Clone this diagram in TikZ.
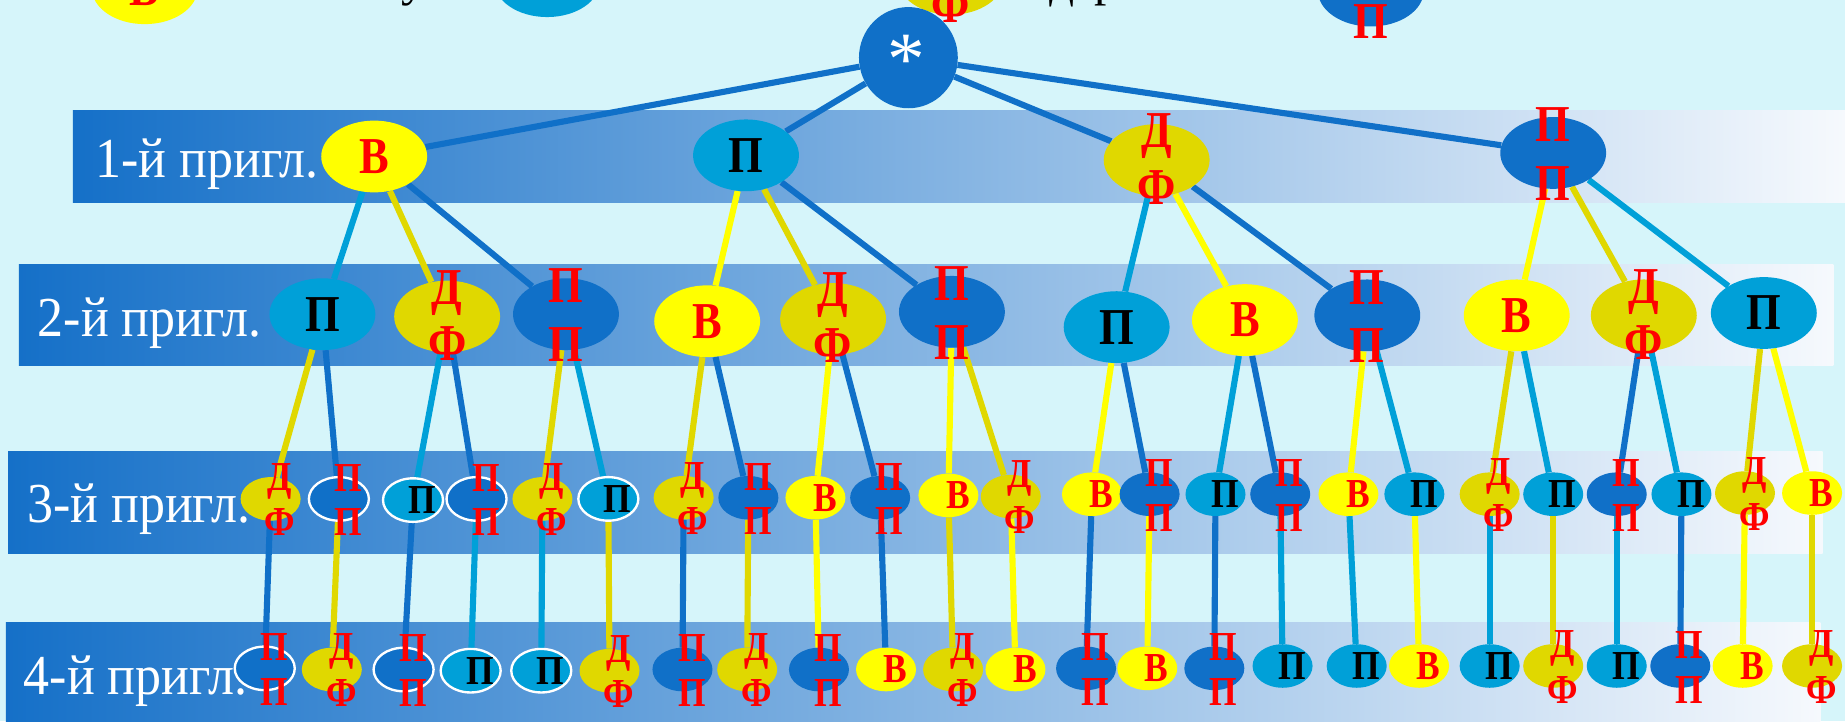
\documentclass[tikz,border=0pt]{standalone}
\usepackage{fontspec}
\setmainfont{Liberation Serif}
\usepackage{graphicx}
\usetikzlibrary{shapes.geometric}
\pgfdeclarelayer{bandlayer}
\pgfdeclarelayer{edgelayer}
\pgfsetlayers{bandlayer,edgelayer,main}
\definecolor{bgc}{RGB}{214,245,250}
\definecolor{yel}{RGB}{255,255,0}
\definecolor{dyel}{RGB}{224,216,0}
\definecolor{cya}{RGB}{0,160,216}
\definecolor{dbl}{RGB}{16,112,200}
\definecolor{bandL}{RGB}{21,112,200}
\definecolor{bandR}{RGB}{246,249,253}
\newcommand{\bigfnt}{\fontsize{44}{44}\selectfont\bfseries}
\newcommand{\smlfnt}{\fontsize{35}{35}\selectfont\bfseries}
\newcommand{\bandfnt}{\fontsize{48}{48}\selectfont}
\newcommand{\nx}[1]{\scalebox{0.86}[1]{#1}}
\newcommand{\dfuA}{20pt}\newcommand{\dfdA}{23pt}
\newcommand{\ppuA}{24pt}\newcommand{\ppdA}{26pt}
\newcommand{\dfuS}{15pt}\newcommand{\dfdS}{20pt}
\newcommand{\ppuS}{18pt}\newcommand{\ppdS}{20pt}
\tikzset{
  ellA/.style={ellipse, minimum width=90pt, minimum height=61pt, inner sep=0pt},
  ellS/.style={ellipse, minimum width=51pt, minimum height=37pt, inner sep=0pt},
  labA/.style={inner sep=0pt, font=\bigfnt},
  labS/.style={inner sep=0pt, font=\smlfnt, xshift=8pt},
  wo/.style={draw=white, line width=2pt},
  ed/.style={line width=5.2pt},
  band/.style={left color=bandL, right color=bandR, draw=none},
  bandtxt/.style={text=white, font=\bandfnt, anchor=base west, inner sep=0pt}
}
\newcommand{\NV}[5]{%
  \node[ell#4,fill=yel,#5] (#1) at (#2,#3) {};
  \node[lab#4,text=red] (#1t) at (#1.center) {\nx{В}};}
\newcommand{\NP}[5]{%
  \node[ell#4,fill=cya,#5] (#1) at (#2,#3) {};
  \node[lab#4,text=black] (#1t) at (#1.center) {\nx{П}};}
\newcommand{\NDF}[5]{%
  \node[ell#4,fill=dyel,#5] (#1) at (#2,#3) {};
  \node[lab#4,text=red,yshift=\csname dfu#4\endcsname] (#1t) at (#1.center) {\nx{Д}};
  \node[lab#4,text=red,yshift=-\csname dfd#4\endcsname] (#1b) at (#1.center) {\nx{Ф}};}
\newcommand{\NPP}[5]{%
  \node[ell#4,fill=dbl,#5] (#1) at (#2,#3) {};
  \node[lab#4,text=red,yshift=\csname ppu#4\endcsname] (#1t) at (#1.center) {\nx{П}};
  \node[lab#4,text=red,yshift=-\csname ppd#4\endcsname] (#1b) at (#1.center) {\nx{П}};}
\begin{document}
\begin{tikzpicture}[x=1pt,y=-1pt]
\useasboundingbox (0,0) rectangle (1568,613);
\clip (0,0) rectangle (1568,613);
\begin{pgfonlayer}{bandlayer}
  \fill[bgc] (0,0) rectangle (1568,613);
  \shade[band] (62,94) rectangle (1568,172);
  \shade[band] (16,225) rectangle (1558,311);
  \shade[band] (7,384) rectangle (1549,470);
  \shade[band] (5,529) rectangle (1547,613);
\end{pgfonlayer}
% band texts
\node[bandtxt] (t1) at (81,151) {\scalebox{0.92}[1]{1-й пригл.}};
\node[bandtxt] (t2) at (32,286) {\scalebox{0.92}[1]{2-й пригл.}};
\node[bandtxt] (t3) at (23,444) {\scalebox{0.92}[1]{3-й пригл.}};
\node[bandtxt] (t4) at (20,590) {\scalebox{0.92}[1]{4-й пригл.}};
% legend (cut off at the top)
\node[ellA,fill=yel] (lgV) at (123,-10) {};
\node[labA,text=red] (lgVt) at (lgV.center) {\nx{В}};
\node[text=black,font=\fontsize{42}{42}\selectfont,anchor=base,inner sep=0pt] (lgu) at (352,-4) {у};
\node[ellA,fill=cya] (lgP) at (465,-16) {};
\node[ellA,fill=dyel] (lgDF) at (808,-18) {};
\node[text=black,font=\fontsize{42}{42}\selectfont,anchor=base,inner sep=0pt] (lgd) at (903,-2) {д};
\node[text=black,font=\fontsize{42}{42}\selectfont,anchor=base,inner sep=0pt] (lgr) at (941,-4) {р};
\node[ellA,fill=dbl] (lgPP) at (1165,-8) {};
\node[labA,text=red,yshift=-26pt] (lgPPb) at (lgPP.center) {\nx{П}};
% root
\node[ellipse,fill=dbl,minimum width=84pt,minimum height=86pt,inner sep=0pt] (r) at (772,49) {};
\node[text=white,font=\fontsize{64}{64}\selectfont,inner sep=0pt] (rt) at (770,51) {*};
\node[labA,text=red,yshift=-23pt] (lgDFb) at (lgDF.center) {\nx{Ф}};
% level 1
\NV{a1}{318}{133}{A}{}
\NP{a2}{634}{132}{A}{}
\NDF{a3}{983}{136}{A}{}
\NPP{a4}{1320}{130}{A}{}
% level 2
\NP{b1}{274}{267}{A}{}
\NDF{b2}{380}{269}{A}{}
\NPP{b3}{481}{267}{A}{}
\NV{b4}{601}{273}{A}{}
\NDF{b5}{708}{271}{A}{}
\NPP{b6}{809}{265}{A}{}
\NP{b7}{949}{278}{A}{}
\NV{b8}{1058}{272}{A}{}
\NPP{b9}{1162}{268}{A}{}
\NV{b10}{1289}{268}{A}{}
\NDF{b11}{1397}{268}{A}{}
\NP{b12}{1499}{266}{A}{}
% level 3
\NDF{c1}{230}{424}{S}{}
\NPP{c2}{288}{424}{S}{wo}
\NP{c3}{351}{425}{S}{wo}
\NPP{c4}{405}{424}{S}{wo}
\NDF{c5}{461}{424}{S}{}
\NP{c6}{517}{424}{S}{wo}
\NDF{c7}{581}{423}{S}{}
\NPP{c8}{636}{423}{S}{}
\NV{c9}{693}{423}{S}{}
\NPP{c10}{748}{423}{S}{}
\NV{c11}{806}{421}{S}{}
\NDF{c12}{859}{422}{S}{}
\NV{c13}{928}{420}{S}{}
\NPP{c14}{977}{420}{S}{}
\NP{c15}{1033}{420}{S}{}
\NPP{c16}{1088}{420}{S}{}
\NV{c17}{1146}{420}{S}{}
\NP{c18}{1202}{420}{S}{}
\NDF{c19}{1266}{420}{S}{}
\NP{c20}{1320}{420}{S}{}
\NPP{c21}{1374}{420}{S}{}
\NP{c22}{1429}{420}{S}{}
\NDF{c23}{1483}{419}{S}{}
\NV{c24}{1540}{419}{S}{}
% level 4
\NPP{d1}{225}{568}{S}{wo}
\NDF{d2}{282}{569}{S}{}
\NPP{d3}{343}{569}{S}{wo}
\NP{d4}{400}{570}{S}{wo}
\NP{d5}{460}{570}{S}{wo}
\NDF{d6}{518}{570}{S}{}
\NPP{d7}{580}{569}{S}{}
\NDF{d8}{635}{569}{S}{}
\NPP{d9}{696}{569}{S}{}
\NV{d10}{753}{569}{S}{}
\NDF{d11}{810}{569}{S}{}
\NV{d12}{863}{569}{S}{}
\NPP{d13}{923}{568}{S}{}
\NV{d14}{975}{568}{S}{}
\NPP{d15}{1032}{568}{S}{}
\NP{d16}{1090}{566}{S}{}
\NP{d17}{1153}{566}{S}{}
\NV{d18}{1206}{566}{S}{}
\NP{d19}{1266}{566}{S}{}
\NDF{d20}{1320}{566}{S}{}
\NP{d21}{1374}{566}{S}{}
\NPP{d22}{1428}{566}{S}{}
\NV{d23}{1481}{566}{S}{}
\NDF{d24}{1540}{566}{S}{}
% edges
\begin{pgfonlayer}{edgelayer}
  \draw[ed,dbl] (r) -- (a1); \draw[ed,dbl] (r) -- (a2);
  \draw[ed,dbl] (r) -- (a3); \draw[ed,dbl] (r) -- (a4);
  \draw[ed,cya] (a1) -- (b1); \draw[ed,dyel] (a1) -- (b2); \draw[ed,dbl] (a1) -- (b3);
  \draw[ed,yel] (a2) -- (b4); \draw[ed,dyel] (a2) -- (b5); \draw[ed,dbl] (a2) -- (b6);
  \draw[ed,cya] (a3) -- (b7); \draw[ed,yel] (a3) -- (b8); \draw[ed,dbl] (a3) -- (b9);
  \draw[ed,yel] (a4) -- (b10); \draw[ed,dyel] (a4) -- (b11); \draw[ed,cya] (a4) -- (b12);
  \draw[ed,dyel] (b1) -- (c1); \draw[ed,dbl] (b1) -- (c2);
  \draw[ed,cya] (b2) -- (c3); \draw[ed,dbl] (b2) -- (c4);
  \draw[ed,dyel] (b3) -- (c5); \draw[ed,cya] (b3) -- (c6);
  \draw[ed,dyel] (b4) -- (c7); \draw[ed,dbl] (b4) -- (c8);
  \draw[ed,yel] (b5) -- (c9); \draw[ed,dbl] (b5) -- (c10);
  \draw[ed,yel] (b6) -- (c11); \draw[ed,dyel] (b6) -- (c12);
  \draw[ed,yel] (b7) -- (c13); \draw[ed,dbl] (b7) -- (c14);
  \draw[ed,cya] (b8) -- (c15); \draw[ed,dbl] (b8) -- (c16);
  \draw[ed,yel] (b9) -- (c17); \draw[ed,cya] (b9) -- (c18);
  \draw[ed,dyel] (b10) -- (c19); \draw[ed,cya] (b10) -- (c20);
  \draw[ed,dbl] (b11) -- (c21); \draw[ed,cya] (b11) -- (c22);
  \draw[ed,dyel] (b12) -- (c23); \draw[ed,yel] (b12) -- (c24);
  \draw[ed,dbl] (c1) -- (d1); \draw[ed,dyel] (c2) -- (d2);
  \draw[ed,dbl] (c3) -- (d3); \draw[ed,cya] (c4) -- (d4);
  \draw[ed,cya] (c5) -- (d5); \draw[ed,dyel] (c6) -- (d6);
  \draw[ed,dbl] (c7) -- (d7); \draw[ed,dyel] (c8) -- (d8);
  \draw[ed,yel] (c9) -- (d9); \draw[ed,dbl] (c10) -- (d10);
  \draw[ed,dyel] (c11) -- (d11); \draw[ed,yel] (c12) -- (d12);
  \draw[ed,dbl] (c13) -- (d13); \draw[ed,yel] (c14) -- (d14);
  \draw[ed,dbl] (c15) -- (d15); \draw[ed,cya] (c16) -- (d16);
  \draw[ed,cya] (c17) -- (d17); \draw[ed,yel] (c18) -- (d18);
  \draw[ed,cya] (c19) -- (d19); \draw[ed,dyel] (c20) -- (d20);
  \draw[ed,cya] (c21) -- (d21); \draw[ed,dbl] (c22) -- (d22);
  \draw[ed,yel] (c23) -- (d23); \draw[ed,dyel] (c24) -- (d24);
\end{pgfonlayer}
\end{tikzpicture}
\end{document}
